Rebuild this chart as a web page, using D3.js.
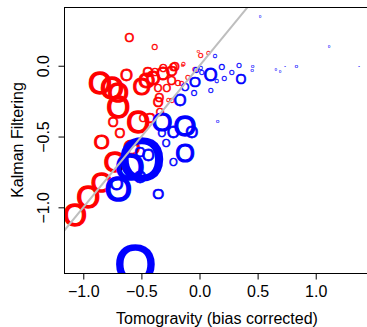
<!DOCTYPE html>
<html><head><meta charset="utf-8">
<script src="https://cdn.jsdelivr.net/npm/d3@7/dist/d3.min.js"></script>
<style>body{margin:0;background:#fff} svg{display:block;font-family:"Liberation Sans",Arial,Helvetica,sans-serif}</style>
</head><body><svg id="c" width="367" height="327"></svg>
<script>
const xTicks = [-1.0, -0.5, 0.0, 0.5, 1.0];
const yTicks = [-1.0, -0.5, 0.0];
const xTitle = "Tomogravity (bias corrected)";
const yTitle = "Kalman Filtering";

// red series: tomogravity estimate, kalman estimate, flow weight
const redX = [-0.604,-0.385,-0.627,-0.856,-0.753,-0.701,-0.699,-0.527,-0.742,-0.684,-0.842,-0.486,-0.426,-0.355,-0.340,-0.237,-0.497,-0.454,-0.400,-0.314,-0.239,-0.211,-0.443,-0.357,-0.282,-0.185,-0.239,-0.383,-0.312,-0.225,-0.139,-0.346,-0.268,-0.010,0.010,0.076,-0.039,-0.099,-0.153,-0.727,-0.842,-0.957,-1.071,-0.145,-0.583];
const redY = [0.203,0.130,-0.066,-0.124,-0.157,-0.186,-0.290,-0.395,-0.395,-0.475,-0.532,-0.369,-0.362,-0.254,-0.325,-0.242,-0.148,-0.101,-0.087,-0.052,-0.030,-0.007,-0.044,-0.157,-0.157,-0.122,-0.101,-0.042,-0.018,-0.007,0.010,-0.226,-0.242,0.104,0.076,0.088,-0.023,-0.080,-0.122,-0.678,-0.819,-0.925,-1.054,0.005,-0.572];
const redW = [0.9,0.6,1.2,2.2,2.2,2.0,2.2,2.2,1.0,1.0,1.5,0.8,1.1,1.0,0.8,0.5,1.7,1.6,1.4,1.3,1.1,0.9,1.0,0.8,0.8,0.6,0.9,0.8,0.8,0.8,0.4,0.9,0.4,0.3,0.5,0.4,0.5,0.5,0.5,2.1,2.0,2.2,2.2,0.3,1.6];

// blue series
const blueX = [0.521,1.114,0.133,0.191,0.340,0.458,0.452,0.277,0.096,0.213,0.148,0.357,0.019,-0.030,0.010,0.656,0.693,0.736,0.833,1.373,-0.039,-0.125,-0.047,0.096,-0.168,0.157,-0.125,-0.067,-0.322,-0.225,-0.325,-0.288,-0.125,-0.225,-0.355,-0.497,-0.598,-0.699,-0.713,-0.551,-0.512,-0.441,-0.512];
const blueY = [0.346,0.134,0.069,-0.007,0.003,-0.002,-0.030,-0.049,-0.061,-0.089,-0.106,-0.096,-0.049,-0.030,-0.018,-0.030,-0.042,-0.007,-0.007,-0.007,-0.113,-0.148,-0.191,-0.172,-0.242,-0.395,-0.419,-0.466,-0.390,-0.466,-0.477,-0.548,-0.619,-0.678,-0.901,-0.654,-0.713,-0.866,-0.831,-1.400,-0.607,-0.631,-0.784];
const blueW = [0.2,0.2,0.4,0.6,0.5,0.3,0.3,0.5,1.3,0.5,0.4,1.0,0.5,0.6,0.4,0.2,0.2,0.15,0.3,0.15,1.1,0.8,0.6,0.5,1.2,0.3,2.1,1.2,1.9,1.2,0.8,0.8,1.8,0.8,1.1,4.2,2.7,2.5,1.3,3.8,1.0,1.2,1.2];

const svg = d3.select("#c");
const L = 64, R = 370, T = 7, B = 273;
const x = d3.scaleLinear().domain([-1.166, 1.467]).range([L, R]);
const y = d3.scaleLinear().domain([-1.464, 0.415]).range([B, T]);
const fs = d3.scaleLinear().domain([0, 1]).range([0, 14]);

svg.append("defs").append("clipPath").attr("id","clip")
  .append("rect").attr("x",L).attr("y",T).attr("width",R-L).attr("height",B-T);

const plot = svg.append("g").attr("clip-path","url(#clip)");

function series(xs, ys, ws, color){
  const data = xs.map((v,i)=>({x:v,y:ys[i],w:ws[i]}));
  plot.append("g").selectAll("text").data(data).join("text")
    .attr("x",d=>x(d.x)).attr("y",d=>y(d.y))
    .attr("dy","0.36em").attr("text-anchor","middle")
    .attr("font-size",d=>fs(d.w)+"px")
    .attr("fill",color).attr("stroke",color)
    .attr("stroke-width",d=>fs(d.w)*0.045)
    .text("O");
}
series(redX, redY, redW, "#ff0000");
series(blueX, blueY, blueW, "#0000ff");

// y = x reference line
plot.append("line")
  .attr("x1",x(-1.5)).attr("y1",y(-1.5)).attr("x2",x(1.5)).attr("y2",y(1.5))
  .attr("stroke","#bebebe").attr("stroke-width",2);

// box
svg.append("rect").attr("x",L+0.5).attr("y",T+0.5).attr("width",R-L).attr("height",B-T)
  .attr("fill","none").attr("stroke","#000").attr("stroke-width",1);

// axes
const fmt = d=>d3.format(".1f")(d).replace("-","\u2212");
const xa = svg.append("g").attr("transform",`translate(0,${B+0.5})`)
  .call(d3.axisBottom(x).tickValues(xTicks).tickSize(6).tickPadding(6).tickFormat(fmt));
xa.select(".domain").remove();
xa.selectAll("text").attr("font-size","16px").attr("font-family","Liberation Sans, Arial, sans-serif").attr("fill","#000");

const ya = svg.append("g").attr("transform",`translate(${L+0.5},0)`)
  .call(d3.axisLeft(y).tickValues(yTicks).tickSize(6).tickFormat(fmt));
ya.select(".domain").remove();
ya.selectAll("text")
  .attr("font-size","16px").attr("font-family","Liberation Sans, Arial, sans-serif").attr("fill","#000")
  .attr("text-anchor","middle").attr("x",null).attr("dy",null)
  .attr("transform","translate(-16,0) rotate(-90)");

svg.append("text").attr("x",(L+R)/2).attr("y",324).attr("text-anchor","middle")
  .attr("font-size","16px").text(xTitle);
svg.append("text").attr("transform",`translate(22.5,${(T+B)/2}) rotate(-90)`).attr("text-anchor","middle")
  .attr("font-size","16px").text(yTitle);
</script></body></html>
